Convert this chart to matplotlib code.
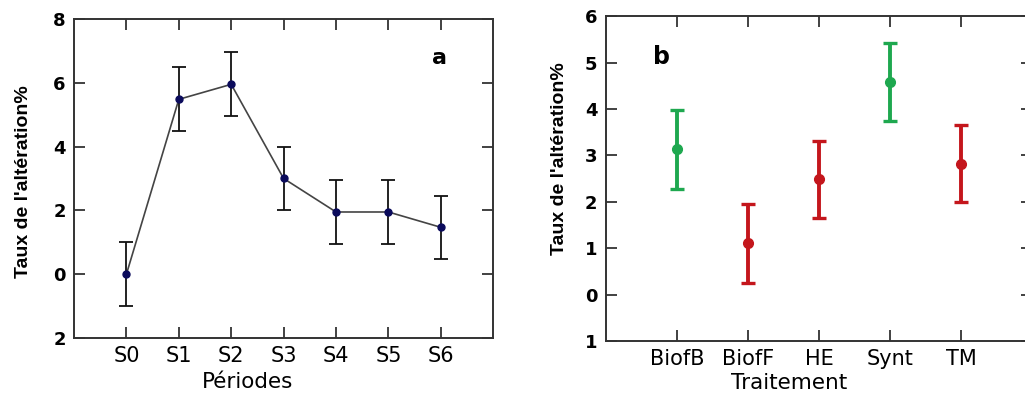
import numpy as np
import matplotlib
matplotlib.use('Agg')
import matplotlib.pyplot as plt

plt.rcParams['font.family'] = ['DejaVu Sans']

# panel a
periodes = ['S0', 'S1', 'S2', 'S3', 'S4', 'S5', 'S6']
taux_a = [0.0, 5.48, 5.95, 3.0, 1.95, 1.95, 1.47]
err_a = [1.0, 1.0, 1.0, 1.0, 1.0, 1.0, 0.98]
yticks_a = [-2, 0, 2, 4, 6, 8]
ylabels_a = ['2', '0', '2', '4', '6', '8']

# panel b
traitements = ['BiofB', 'BiofF', 'HE', 'Synt', 'TM']
taux_b = [3.13, 1.11, 2.49, 4.58, 2.82]
err_b = [0.85, 0.85, 0.83, 0.84, 0.83]
couleurs_b = ['#1ea84f', '#c4161c', '#c4161c', '#1ea84f', '#c4161c']
yticks_b = [-1, 0, 1, 2, 3, 4, 5, 6]
ylabels_b = ['1', '0', '1', '2', '3', '4', '5', '6']

narrow = ['Liberation Sans Narrow', 'Liberation Sans']

fig = plt.figure(figsize=(10.25, 3.94), dpi=100)
ax1 = fig.add_axes([0.0722, 0.142, 0.409, 0.81])
ax2 = fig.add_axes([0.591, 0.1345, 0.416, 0.8245])

def style(ax):
    for s in ax.spines.values():
        s.set_color('#333333')
        s.set_linewidth(1.4)
    ax.tick_params(direction='in', length=8, width=1.3, color='#333333',
                   top=True, right=True, pad=6)
    ax.tick_params(axis='x', labelsize=15)
    ax.tick_params(axis='y', labelsize=13)

# --- a
x = np.arange(len(periodes))
ax1.plot(x, taux_a, color='#444444', lw=1.2, zorder=2)
ax1.errorbar(x, taux_a, yerr=err_a, fmt='none', ecolor='#111111',
             elinewidth=1.3, capsize=5, capthick=1.3, zorder=3)
ax1.plot(x, taux_a, 'o', color='#0b0b5c', ms=5, zorder=4)
ax1.set_xlim(-1, 7)
ax1.set_ylim(-2, 8)
ax1.set_xticks(x)
ax1.set_xticklabels(periodes)
ax1.set_yticks(yticks_a)
ax1.set_yticklabels(ylabels_a, fontweight='bold')
style(ax1)
ax1.set_xlabel('Périodes', fontsize=15.5)
ax1.xaxis.set_label_coords(0.415, -0.105)
ax1.set_ylabel("Taux de l'altération%", fontsize=14, fontweight='bold',
               family=narrow)
ax1.yaxis.set_label_coords(-0.100, 0.49)
ax1.text(0.871, 0.878, 'a', transform=ax1.transAxes, fontsize=16,
         fontweight='bold', ha='center', va='center')

# --- b
xb = np.arange(len(traitements))
for xi, v, e, c in zip(xb, taux_b, err_b, couleurs_b):
    ax2.errorbar(xi, v, yerr=e, fmt='o', color=c, ecolor=c, ms=7,
                 elinewidth=2.8, capsize=5, capthick=2.4)
ax2.set_xlim(-1, 5)
ax2.set_ylim(-1, 6)
ax2.set_xticks(xb)
ax2.set_xticklabels(traitements)
ax2.set_yticks(yticks_b)
ax2.set_yticklabels(ylabels_b, fontweight='bold')
style(ax2)
ax2.set_xlabel('Traitement', fontsize=15.5)
ax2.xaxis.set_label_coords(0.43, -0.098)
ax2.set_ylabel("Taux de l'altération%", fontsize=14, fontweight='bold',
               family=narrow)
ax2.yaxis.set_label_coords(-0.089, 0.56)
ax2.text(0.131, 0.874, 'b', transform=ax2.transAxes, fontsize=17,
         fontweight='bold', ha='center', va='center')

fig.savefig('out.png', dpi=100)
